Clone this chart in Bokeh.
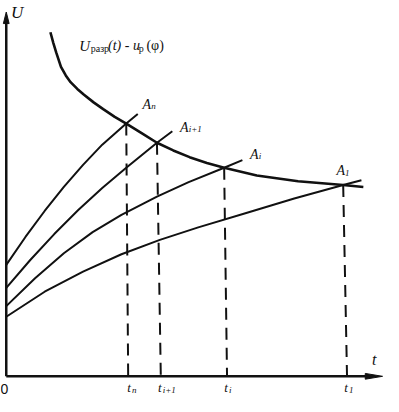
from bokeh.plotting import figure
from bokeh.models import Range1d
from bokeh.core.properties import value
from bokeh.embed import file_html
from bokeh.resources import INLINE

# ---- data (t, U) read from the schematic ----
# breakdown-voltage curve U_разр(t)
brk_t = [46, 49, 52, 57, 62, 67, 74, 81, 91, 101, 113, 125, 141, 157, 174, 191, 209, 227, 261, 304, 351, 372]
brk_U = [358, 347, 337, 322, 313, 306, 299, 293, 285, 278, 270, 263, 253, 243, 235, 228, 222, 217, 209, 203, 199, 197]

# rising curves u_p(φ), from top (n) to bottom (1)
cn_t = [0, 20, 40, 60, 80, 100, 125, 137]
cn_U = [116, 145, 172, 197, 220, 241, 263, 273]
ci1_t = [0, 25, 50, 75, 100, 125, 157, 173]
ci1_U = [92, 121, 148, 173, 196, 217, 243, 255]
ci_t = [0, 30, 60, 90, 120, 157, 190, 227, 246]
ci_U = [73, 102, 128, 150, 168, 187, 202, 217, 225]
c1_t = [0, 40, 80, 120, 160, 200, 250, 300, 351, 370]
c1_U = [62, 88, 109, 127, 142, 155, 170, 185, 199, 204]

# intersection points A and their feet on the t axis
A_t = [125, 157, 227, 351]
A_U = [263, 243, 217, 199]
foot_t = [127, 161, 230, 355]
A_sub = ["n", "i+1", "i", "1"]
t_sub = ["n", "i+1", "i", "1"]

T_MAX = 392
U_MAX = 379

p = figure(width=383, height=396, output_backend="svg", toolbar_location=None,
           x_range=Range1d(-6, 393), y_range=Range1d(-21, 391),
           x_axis_location=None, y_axis_location=None, min_border=0)
p.grid.visible = False
p.outline_line_color = None
p.background_fill_color = "white"
p.border_fill_color = "white"

INK = "#111111"
SERIF = value("Liberation Serif")

# axes with arrowheads
p.line([0, 0], [0, U_MAX - 10], line_color=INK, line_width=2.5)
p.line([0, T_MAX - 14], [0, 0], line_color=INK, line_width=2.5)
p.patch([-3, 0, 3], [U_MAX - 12, U_MAX, U_MAX - 12], fill_color=INK, line_color=INK)
p.patch([T_MAX - 18, T_MAX, T_MAX - 18], [3, 0, -3], fill_color=INK, line_color=INK)

# dashed drop lines
p.segment(x0=A_t, y0=A_U, x1=foot_t, y1=[0] * len(foot_t),
          line_color=INK, line_width=2, line_dash="12 8")

# curves
for xs, ys in [(cn_t, cn_U), (ci1_t, ci1_U), (ci_t, ci_U), (c1_t, c1_U)]:
    p.line(xs, ys, line_color=INK, line_width=2, line_join="round")
p.line(brk_t, brk_U, line_color=INK, line_width=2.6, line_join="round")


def txt(x, y, s, size, italic=True, font=SERIF):
    p.text(x=[x], y=[y], text=[s], text_font=font, text_font_size=f"{size}px",
           text_font_style="italic" if italic else "normal", text_color=INK,
           text_baseline="alphabetic", text_align="left")


def px(xp, yp):
    return xp - 6, 391 - yp


# axis labels
txt(*px(11, 13), "U", 17)
txt(*px(387, 373), "t", 16)
txt(*px(0, 404), "0", 14, italic=False, font=value("Liberation Sans"))

# curve label  U_разр(t) - u_р(φ)
txt(*px(82, 47), "U", 15)
txt(*px(94, 50), "разр", 10, italic=False)
txt(*px(112, 47), "(t) - u", 14)
txt(*px(144, 50), "р", 10, italic=False)
txt(*px(152, 47), "(φ)", 14, italic=False)

# A labels
A_lab_px = [(148, 108), (187, 132), (260, 160), (350, 177)]
for (xp, yp), s in zip(A_lab_px, A_sub):
    txt(*px(xp, yp), "A", 14)
    txt(*px(xp + 9, yp + 2), s, 9)

# t tick labels
t_lab_px = [(132, 403), (164, 403), (233, 403), (358, 403)]
for (xp, yp), s in zip(t_lab_px, t_sub):
    txt(*px(xp, yp), "t", 13)
    txt(*px(xp + 5, yp + 2), s, 9)

open("out.html", "w").write(file_html(p, INLINE))
